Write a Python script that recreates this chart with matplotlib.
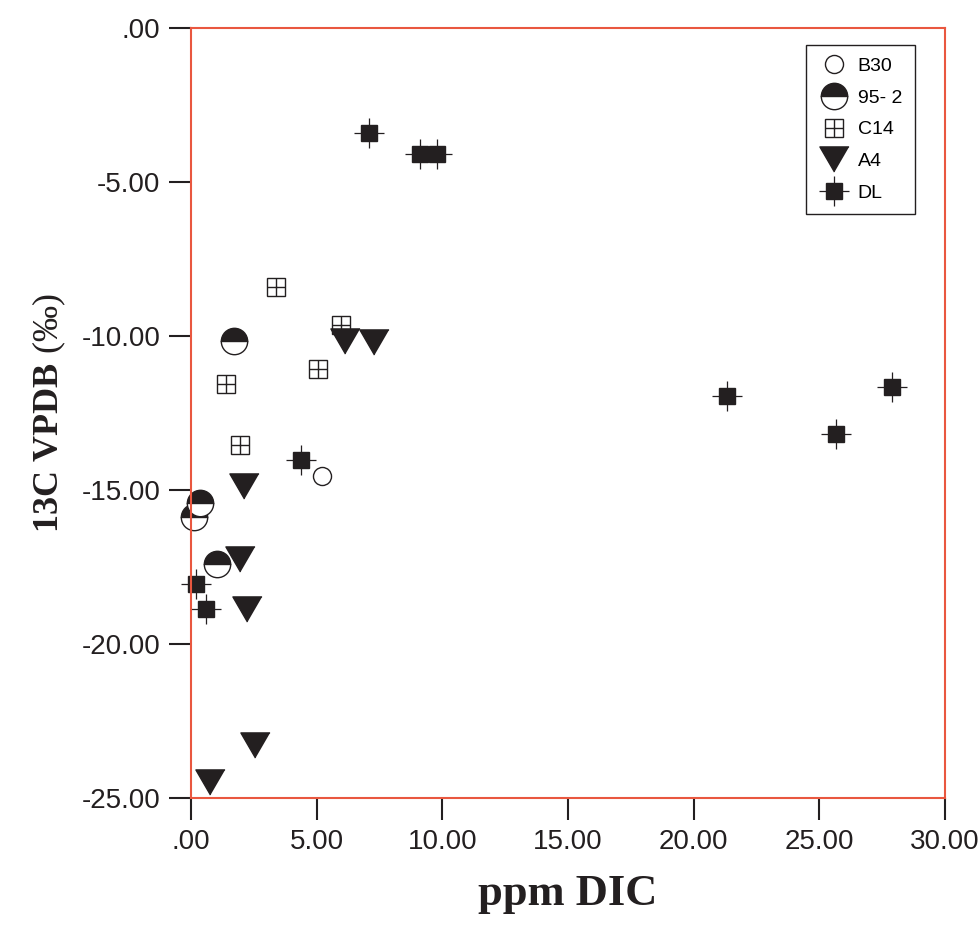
import matplotlib
matplotlib.use("Agg")
import matplotlib.pyplot as plt
from matplotlib.legend_handler import HandlerTuple

plt.rcParams['font.family'] = ['Liberation Sans', 'DejaVu Sans']
plt.rcParams['mathtext.fontset'] = 'custom'
plt.rcParams['mathtext.bf'] = 'Liberation Serif:bold'
plt.rcParams['mathtext.it'] = 'Liberation Serif:italic:bold'
plt.rcParams['mathtext.rm'] = 'Liberation Serif'

# data
b30_x = [5.21]
b30_y = [-14.55]

s952_x = [1.71, 0.36, 0.12, 1.03]
s952_y = [-10.16, -15.42, -15.88, -17.40]

c14_x = [3.38, 5.97, 5.05, 1.39, 1.95]
c14_y = [-8.41, -9.64, -11.07, -11.56, -13.54]

a4_x = [6.13, 7.28, 2.11, 1.95, 2.23, 2.55, 0.76]
a4_y = [-10.16, -10.19, -14.87, -17.24, -18.86, -23.28, -24.48]

dl_x = [7.08, 9.11, 9.79, 4.38, 0.20, 0.60, 21.33, 25.67, 27.90]
dl_y = [-3.41, -4.09, -4.09, -14.03, -18.05, -18.86, -11.95, -13.18, -11.66]

xticks = [0, 5, 10, 15, 20, 25, 30]
yticks = [0, -5, -10, -15, -20, -25]
xlabels = [".00", "5.00", "10.00", "15.00", "20.00", "25.00", "30.00"]
ylabels = [".00", "-5.00", "-10.00", "-15.00", "-20.00", "-25.00"]

red = '#e9573f'
ink = '#231f20'

fig = plt.figure(figsize=(9.8, 9.36), dpi=100)
ax = fig.add_axes([0.1949, 0.1474, 0.7694, 0.8227])

# B30 open circles
h_b30, = ax.plot(b30_x, b30_y, 'o', ms=13, mfc='white', mec=ink, mew=1, ls='none', clip_on=False)

# 95-2 half filled circles
h_952, = ax.plot(s952_x, s952_y, 'o', ms=19, fillstyle='top', mfc=ink, mfcalt='white',
                 mec=ink, mew=1, ls='none', clip_on=False)

# C14 squares with a cross
c14_sq, = ax.plot(c14_x, c14_y, 's', ms=13, mfc='white', mec=ink, mew=1, ls='none', clip_on=False)
c14_pl, = ax.plot(c14_x, c14_y, '+', ms=13, mec=ink, mew=1, ls='none', clip_on=False)

# A4 down triangles
tri = [(0, -1), (-1.16, 1), (1.16, 1)]
h_a4, = ax.plot(a4_x, a4_y, marker=tri, ms=21, mfc=ink, mec=ink, ls='none', clip_on=False)

# DL filled squares with cross bars
dl_pl, = ax.plot(dl_x, dl_y, '+', ms=21, mec=ink, mew=0.9, ls='none', clip_on=False)
dl_sq, = ax.plot(dl_x, dl_y, 's', ms=11, mfc=ink, mec=ink, ls='none', clip_on=False)

ax.set_xlim(0, 30)
ax.set_ylim(-25, 0)
ax.set_xticks(xticks)
ax.set_xticklabels(xlabels)
ax.set_yticks(yticks)
ax.set_yticklabels(ylabels)
ax.tick_params(direction='out', length=16, width=1.5, color=ink, labelsize=20, pad=6,
               labelcolor=ink)
for s in ax.spines.values():
    s.set_color(red)
    s.set_linewidth(1.5)

ax.set_xlabel("ppm DIC", fontsize=32, fontweight='bold', family='Liberation Serif',
              color=ink, labelpad=14)
ax.set_ylabel(r"$\mathbf{13C\ VPDB}\ \mathit{(‰)}$", fontsize=26, color=ink, labelpad=10)

leg = ax.legend([h_b30, h_952, (c14_sq, c14_pl), h_a4, (dl_pl, dl_sq)],
                ['B30', '95- 2', 'C14', 'A4', 'DL'],
                handler_map={tuple: HandlerTuple(ndivide=1, pad=0)},
                loc='upper right', bbox_to_anchor=(0.96, 0.978), fontsize=14,
                fancybox=False, edgecolor=ink, framealpha=1, handlelength=1.5,
                handletextpad=0.5, labelspacing=0.72, borderpad=0.65, borderaxespad=0)
leg.get_frame().set_linewidth(1)

fig.savefig("out.png", dpi=100)
